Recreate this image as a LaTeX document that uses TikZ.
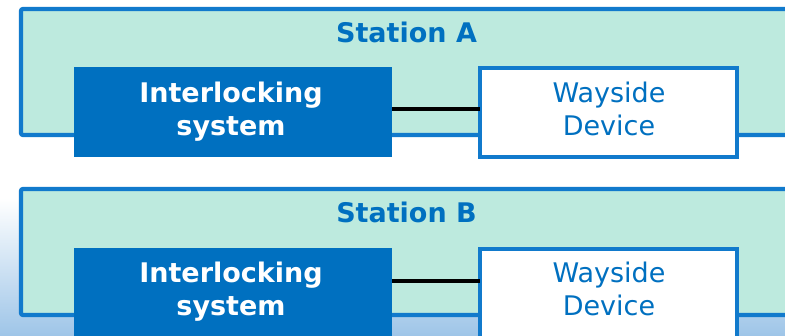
\documentclass[tikz,border=0pt]{standalone}
\usepackage{fontspec}
\setmainfont{DejaVu Sans}
\definecolor{mint}{RGB}{189,234,222}
\definecolor{sborder}{RGB}{17,122,204}
\definecolor{ilblue}{RGB}{0,112,192}
\definecolor{txtblue}{RGB}{0,112,192}
\definecolor{bgblue}{RGB}{158,197,232}
\tikzset{
  stationbox/.style={draw=sborder, fill=mint, line width=4.2pt, rounded corners=2pt,
    minimum width=879pt, minimum height=126pt, inner sep=0pt, outer sep=0pt},
  stationlabel/.style={anchor=base, text=txtblue, inner sep=0pt,
    font=\fontsize{27}{33}\selectfont\bfseries},
  ilbox/.style={fill=ilblue, minimum width=318pt, inner sep=0pt, outer sep=0pt},
  iltext/.style={text=white, align=center, inner sep=0pt,
    font=\fontsize{27}{33}\selectfont\bfseries},
  wbox/.style={draw=sborder, fill=white, line width=4.2pt, minimum width=257pt,
    inner sep=0pt, outer sep=0pt},
  wtext/.style={text=txtblue, align=center, inner sep=0pt,
    font=\fontsize{27}{33}\selectfont},
  link/.style={draw=black, line width=4.2pt}
}
\begin{document}
\begin{tikzpicture}[x=1pt,y=-1pt]
\useasboundingbox (0,0) rectangle (785,336);
\fill[white] (0,0) rectangle (785,336);
\shade[top color=white, bottom color=bgblue] (0,198) rectangle (785,336);
% Station A
\node[stationbox] (stA) at (460.5,72) {};
\node[stationlabel] (lblA) at (406.5,43) {Station A};
\node[ilbox, minimum height=90pt] (ilA) at (233,112) {};
\node[wbox, minimum height=89pt] (wA) at (608.5,112.5) {};
\draw[link] ([yshift=3pt]ilA.east) -- ([yshift=3.5pt]wA.west);
\node[iltext] (ilAt) at (231,111.9) {Interlocking\\system};
\node[wtext] (wAt) at (609,108.7) {Wayside\\Device};
% Station B
\node[stationbox] (stB) at (460.5,252) {};
\node[stationlabel] (lblB) at (406.5,223) {Station B};
\node[ilbox, minimum height=89pt] (ilB) at (233,292.5) {};
\node[wbox, minimum height=91pt] (wB) at (608.5,294.5) {};
\draw[link] ([yshift=11.5pt]ilB.east) -- ([yshift=13.5pt]wB.west);
\node[iltext] (ilBt) at (231,291.9) {Interlocking\\system};
\node[wtext] (wBt) at (609,288.7) {Wayside\\Device};
\end{tikzpicture}
\end{document}
